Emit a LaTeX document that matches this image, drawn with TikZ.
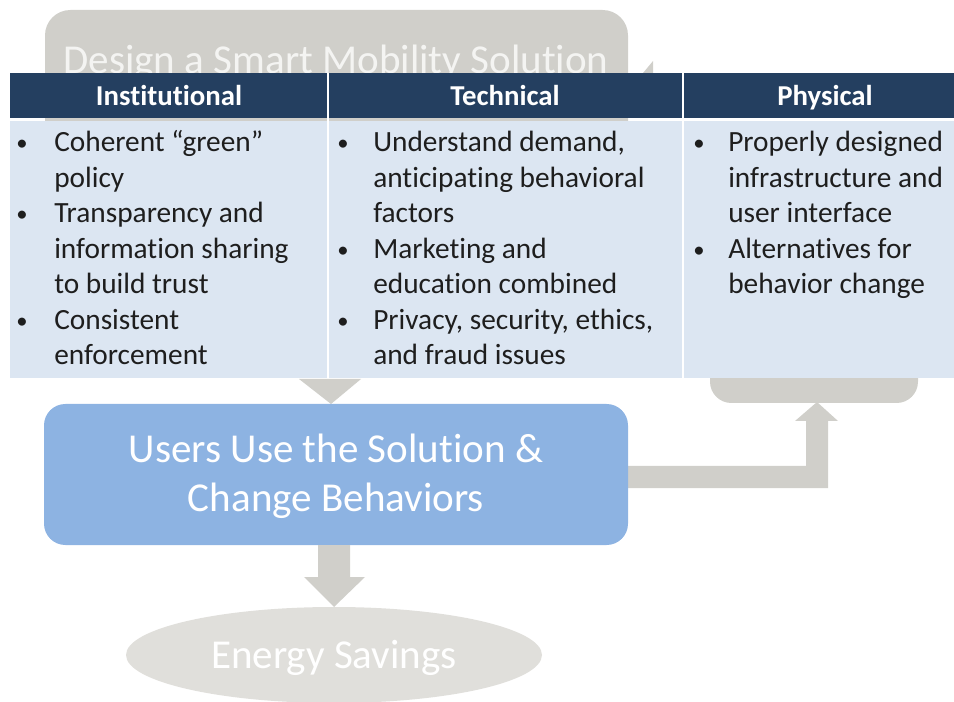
\documentclass[tikz,border=0pt]{standalone}
\usepackage{fontspec}
\setmainfont{Carlito}[RawFeature={-liga;-clig;-dlig}]
\definecolor{navy}{HTML}{243F60}
\definecolor{cellblue}{HTML}{DCE6F2}
\definecolor{boxblue}{HTML}{8DB3E2}
\definecolor{boxgray}{HTML}{D0CFCA}
\definecolor{ellgray}{HTML}{E0DFDB}
\definecolor{fadetext}{HTML}{F4F4F2}
\definecolor{bodyink}{HTML}{1E1E1E}
\tikzset{
  body/.style={inner sep=0pt, anchor=base west, font=\fontsize{22pt}{26.6pt}\selectfont, text=bodyink},
  bul/.style={inner sep=0pt, anchor=base, font=\fontsize{17pt}{20pt}\selectfont, text=bodyink},
  head/.style={inner sep=0pt, anchor=base, font=\fontsize{21.6pt}{26.6pt}\selectfont\bfseries, text=white},
  big/.style={inner sep=0pt, anchor=base, font=\fontsize{30.8pt}{37.5pt}\selectfont},
  blockarrow/.style={fill=boxgray, draw=none}
}
\begin{document}
\begin{tikzpicture}[x=0.75pt, y=-0.75pt]
\useasboundingbox (0,0) rectangle (954,702);
% top gray box (Design)
\fill[boxgray, rounded corners=19pt] (45,10) rectangle (628,220);
\node[big, text=fadetext] (design) at (336,74) {Design a Smart Mobility Solution};
% small arrow piece
\fill[boxgray] (643,73) -- (653,61) -- (653,73) -- cycle;
% right gray box (behind table)
\fill[boxgray, rounded corners=16pt] (710,250) rectangle (918,403);
% table
\fill[navy] (10,73) rectangle (960,118);
\fill[cellblue] (10,121) rectangle (960,378);
\draw[white, line width=1.5pt] (328,73) -- (328,378);
\draw[white, line width=1.5pt] (683,73) -- (683,378);
\node[head] (hinst) at (169,106) {Institutional};
\node[head] (htech) at (505,106) {Technical};
\node[head] (hphys) at (825,106) {Physical};
% column 1
\node[bul] (b11) at (22,151) {•};
\node[body] (c1a) at (54,152) {Coherent “green”};
\node[body] (c1b) at (54,187.5) {policy};
\node[bul] (b12) at (22,222) {•};
\node[body] (c1c) at (54,223) {Transparency and};
\node[body] (c1d) at (54,258.5) {information sharing};
\node[body] (c1e) at (54,294) {to build trust};
\node[bul] (b13) at (22,328.5) {•};
\node[body] (c1f) at (54,329.5) {Consistent};
\node[body] (c1g) at (54,365) {enforcement};
% column 2
\node[bul] (b21) at (343,151) {•};
\node[body] (c2a) at (373,152) {Understand demand,};
\node[body] (c2b) at (373,187.5) {anticipating behavioral};
\node[body] (c2c) at (373,223) {factors};
\node[bul] (b22) at (343,257.5) {•};
\node[body] (c2d) at (373,258.5) {Marketing and};
\node[body] (c2e) at (373,294) {education combined};
\node[bul] (b23) at (343,328.5) {•};
\node[body] (c2f) at (373,329.5) {Privacy, security, ethics,};
\node[body] (c2g) at (373,365) {and fraud issues};
% column 3
\node[bul] (b31) at (699,151) {•};
\node[body] (c3a) at (728,152) {Properly designed};
\node[body] (c3b) at (728,187.5) {infrastructure and};
\node[body] (c3c) at (728,223) {user interface};
\node[bul] (b32) at (699,257.5) {•};
\node[body] (c3d) at (728,258.5) {Alternatives for};
\node[body] (c3e) at (728,294) {behavior change};
% triangle from table to blue box
\fill[blockarrow] (299,379) -- (361,379) -- (331,404) -- cycle;
% elbow arrow to right box
\fill[blockarrow] (600,466) -- (806,466) -- (806,421) -- (795,421) -- (817,402)
   -- (838,421) -- (828,421) -- (828,488) -- (600,488) -- cycle;
% blue box
\fill[boxblue, rounded corners=16pt] (44,404) rectangle (628,545);
\node[big, text=white] (users1) at (336,462) {Users Use the Solution \&};
\node[big, text=white] (users2) at (336,511) {Change Behaviors};
% ellipse
\fill[ellgray] (334,655) ellipse [x radius=208, y radius=48];
\node[big, text=white] (energy) at (334,668) {Energy Savings};
% down arrow
\fill[blockarrow] (318,545) -- (350,545) -- (350,577) -- (365,577) -- (334,607)
   -- (304,577) -- (318,577) -- cycle;
\end{tikzpicture}
\end{document}
